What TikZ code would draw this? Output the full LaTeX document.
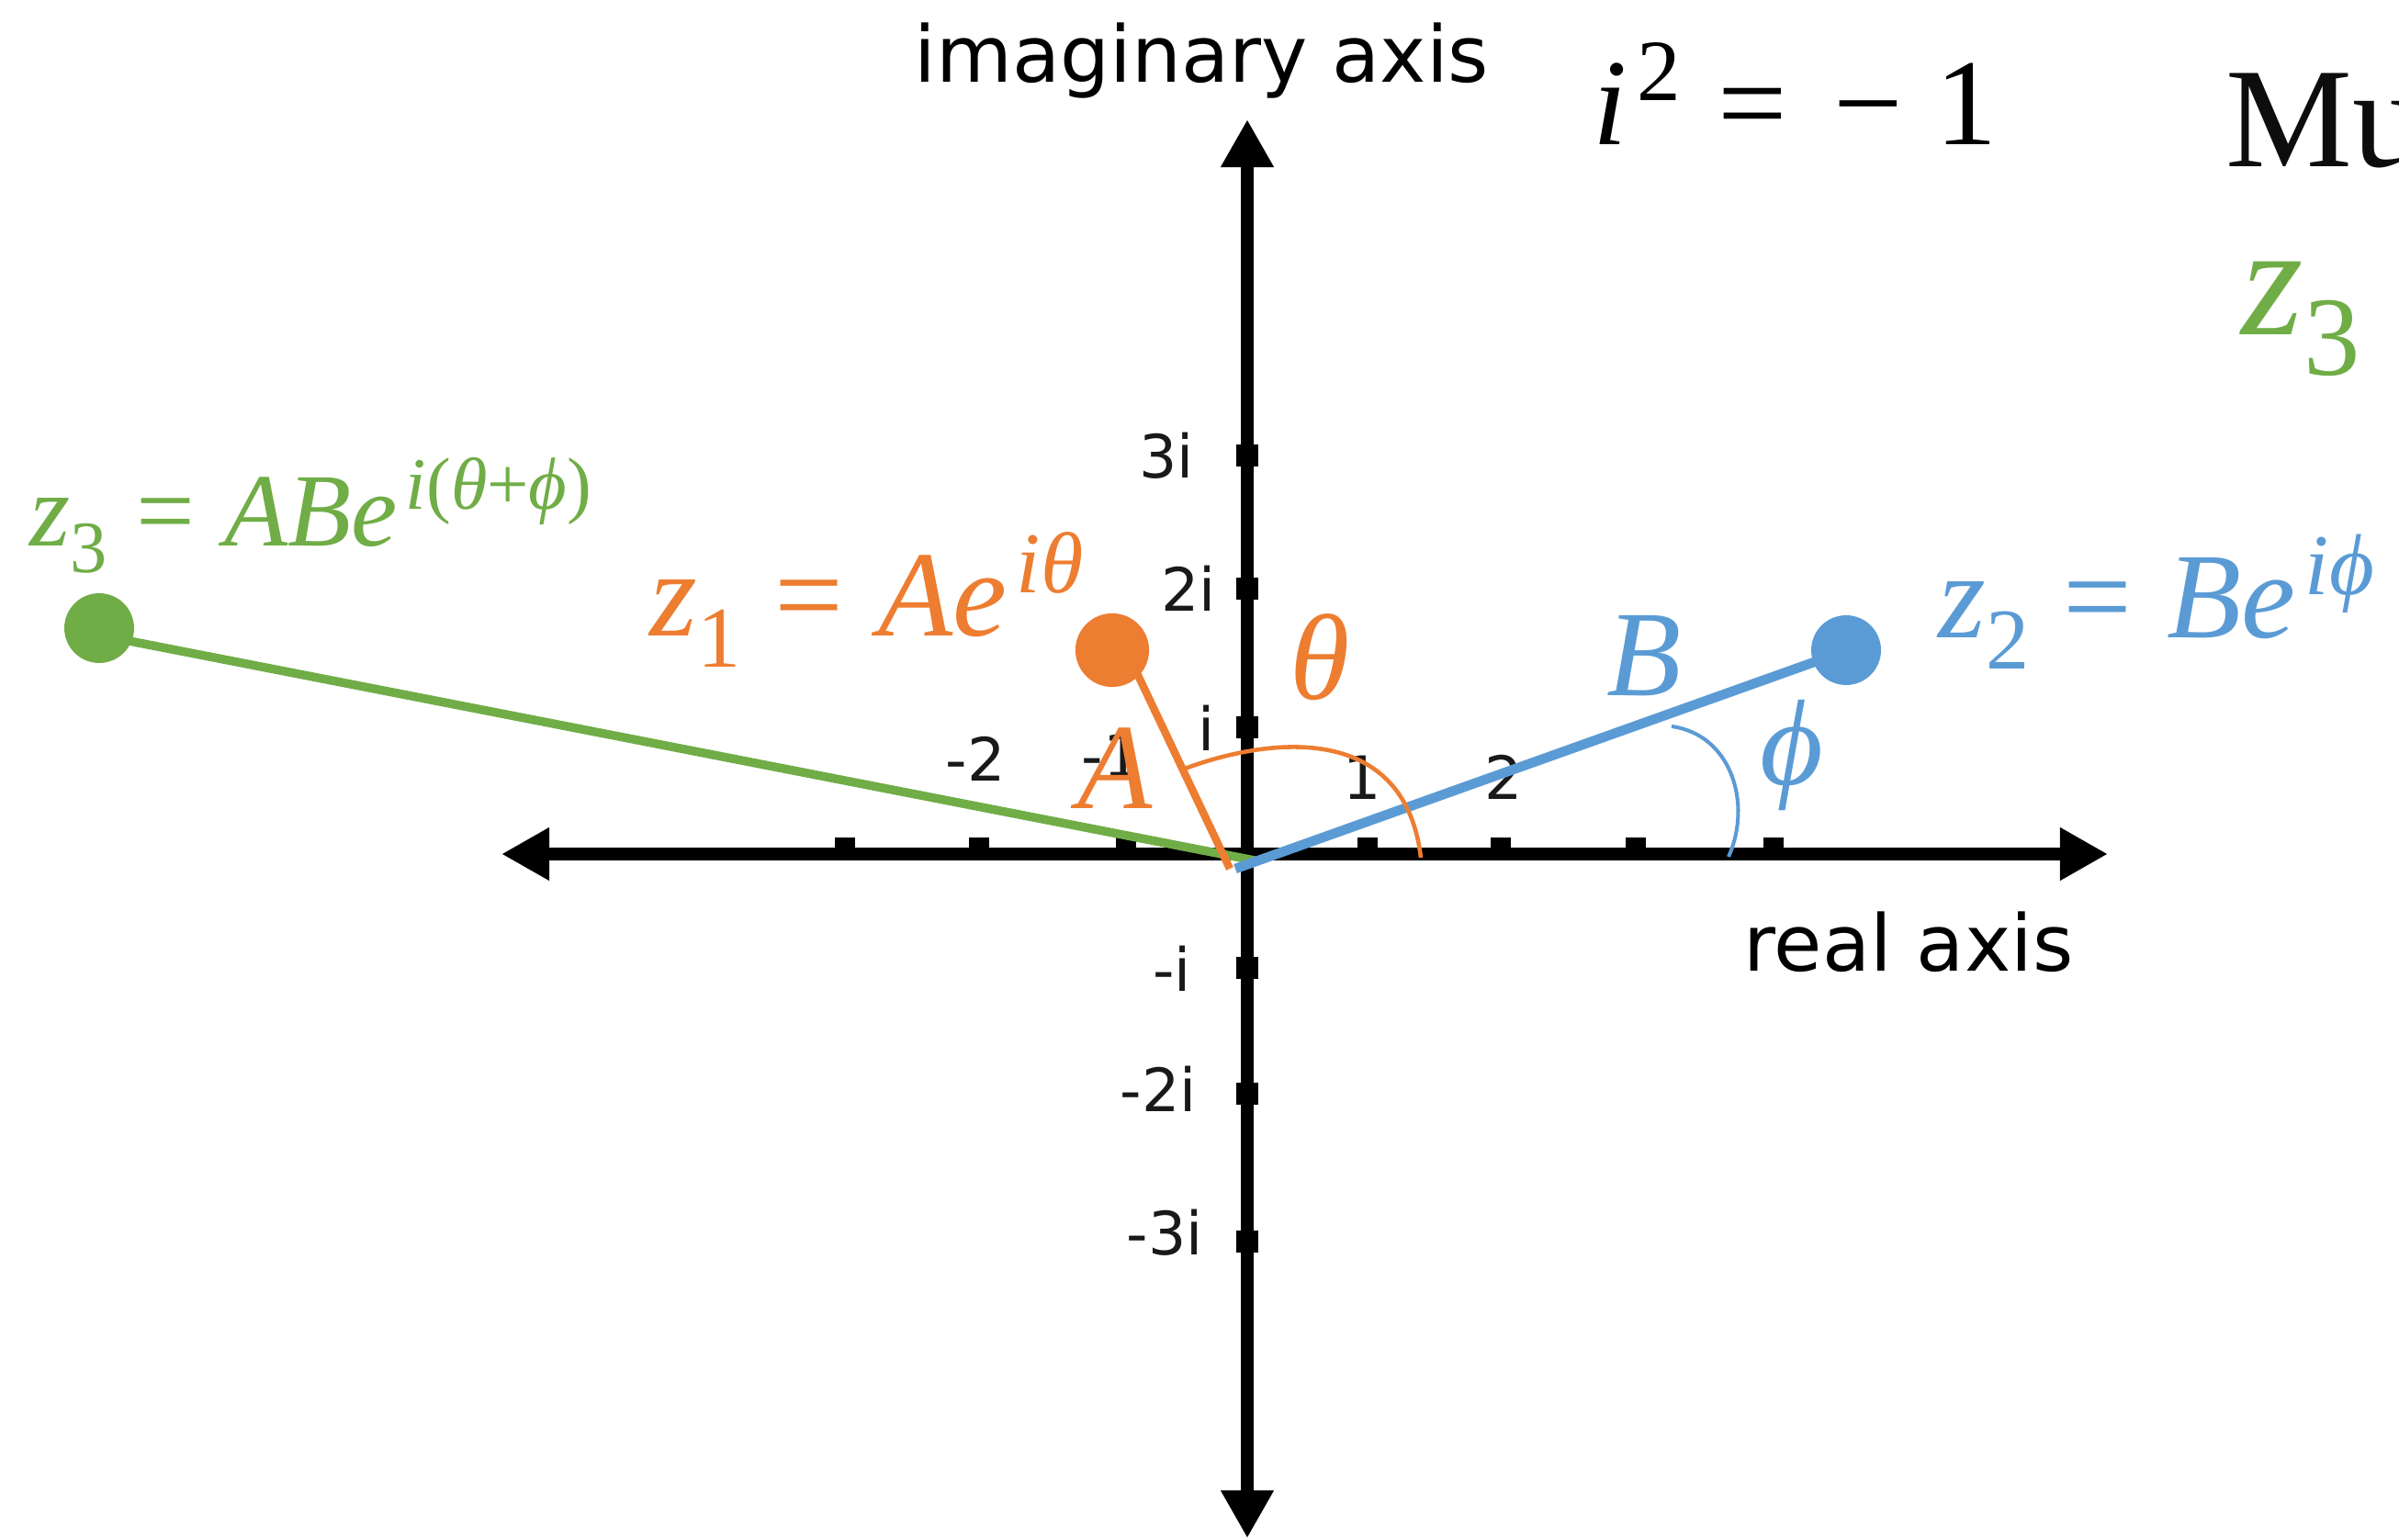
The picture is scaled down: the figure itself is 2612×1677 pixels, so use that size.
\documentclass[tikz,border=0pt]{standalone}
\usepackage{fontspec}
\usepackage{graphicx}
\setmainfont{Liberation Serif}
\newfontfamily\djv{DejaVu Sans}
\usetikzlibrary{arrows.meta}
\definecolor{zorange}{HTML}{ED7D31}
\definecolor{zblue}{HTML}{5B9BD5}
\definecolor{zgreen}{HTML}{70AD47}
\newcommand\Sup[1]{\kern0.08em\raisebox{0.36em}{\scalebox{0.71}{#1}}}
\newcommand\Sub[1]{\raisebox{-0.25em}{\scalebox{0.71}{#1}}}
\newcommand\rel{\hspace{0.28em}}
\begin{document}
\begin{tikzpicture}[x=0.01cm,y=-0.01cm,
  axis/.style={line width=3.8pt,{Triangle[length=14.8pt,width=15.4pt]}-{Triangle[length=14.8pt,width=15.4pt]}},
  ticklab/.style={font=\djv\fontsize{18.5}{18}\selectfont,text=black!90,inner sep=0pt},
  axlab/.style={font=\djv\fontsize{24.2}{24}\selectfont,inner sep=0pt,anchor=base west},
  mlab/.style={font=\fontsize{37.8}{38}\selectfont\itshape,inner sep=0pt},
  dot/.style={circle,inner sep=0pt,fill=#1}]
\useasboundingbox (0,0) rectangle (2612,1677);
\clip (0,0) rectangle (2612,1677);
% axes
\coordinate (yb) at (1358,1675); \coordinate (yt) at (1358,130);
\coordinate (xl) at (546,930);   \coordinate (xr) at (2295,930);
\draw[axis] (xl) -- (xr);
\draw[axis] (yb) -- (yt);
\foreach \x in {920,1066,1226,1489,1634,1781,1931}
  \fill ({\x-11},912) rectangle ({\x+11},934);
\foreach \y in {496,641,792,1054,1191,1352}
  \fill (1346,{\y-12}) rectangle (1370,{\y+12});
% tick labels
\node[ticklab] (l3i) at (1270,496) {3i};
\node[ticklab] (l2i) at (1294,641) {2i};
\node[ticklab] (l1i) at (1314,793) {i};
\node[ticklab] (lm1i) at (1276,1055) {-i};
\node[ticklab] (lm2i) at (1261,1186) {-2i};
\node[ticklab] (lm3i) at (1268,1342) {-3i};
\node[ticklab] (lm2) at (1062,826) {-2};
\node[ticklab] (lm1) at (1210,823) {-1};
\node[ticklab] (lp1) at (1483,847) {1};
\node[ticklab] (lp2) at (1637,846) {2};
% axis labels
\node[axlab] (imlab) at (995,90) {imaginary axis};
\node[axlab] (relab) at (1898,1058) {real axis};
% vectors
\coordinate (og) at (1366,937); \coordinate (g3) at (115,693);
\coordinate (oo) at (1339,946); \coordinate (o1) at (1228,712);
\coordinate (ob) at (1345,946); \coordinate (b2) at (2006,710);
\draw[zgreen,line width=2.7pt] (og) -- (g3);
\draw[zorange,line width=2.4pt] (oo) -- (o1);
\draw[zblue,line width=3pt] (ob) -- (b2);
% angle arcs
\coordinate (ts) at (1290,837); \coordinate (te) at (1547,934);
\draw[zorange,line width=1.3pt] (ts) .. controls (1390,800) and (1530,790) .. (te);
\coordinate (ps) at (1820,791); \coordinate (pe) at (1882,933);
\draw[zblue,line width=1.15pt] (ps) .. controls (1885,800) and (1908,875) .. (pe);
% points
\node[dot=zgreen,minimum size=21.6pt] (d3) at (108,684) {};
\node[dot=zorange,minimum size=22.8pt] (d1) at (1211,708) {};
\node[dot=zblue,minimum size=21.6pt] (d2) at (2010,708) {};
% labels
\node[mlab,text=zorange,anchor=base west] (z1lab) at (707,693)
  {z\Sub{\upshape 1}\rel{\upshape =}\rel Ae\Sup{iθ}};
\node[mlab,text=zblue,anchor=base west] (z2lab) at (2110,695)
  {z\Sub{\upshape 2}\rel{\upshape =}\rel Be\Sup{iϕ}};
\node[mlab,text=zgreen,anchor=base west,font=\fontsize{32.2}{32}\selectfont\itshape] (z3lab) at (32,595)
  {z\Sub{\upshape 3}\rel{\upshape =}\rel ABe\Sup{i{\upshape (}θ{\upshape +}ϕ{\upshape )}}};
\node[mlab,text=zorange,anchor=base] (Alab) at (1214,881) {A};
\node[mlab,text=zorange,anchor=base] (thlab) at (1437,762) {θ};
\node[mlab,text=zblue,anchor=base] (Blab) at (1790,758) {B};
\node[mlab,text=zblue,anchor=base] (phlab) at (1951,855) {ϕ};
\node[inner sep=0pt,anchor=base west,font=\fontsize{38.1}{38}\selectfont] (ieq) at (1734,158)
  {{\itshape i}\Sup{2}\hspace{0.3em}=\hspace{0.38em}−\hspace{0.26em}1};
\node[inner sep=0pt,anchor=base west,font=\fontsize{44.1}{44}\selectfont,text=black!95] (mu) at (2423,182) {Mu};
\node[inner sep=0pt,anchor=base west,font=\fontsize{49.2}{49}\selectfont\itshape,text=zgreen] (z3r) at (2440,365)
  {z\Sub{\upshape 3}};
\end{tikzpicture}
\end{document}
